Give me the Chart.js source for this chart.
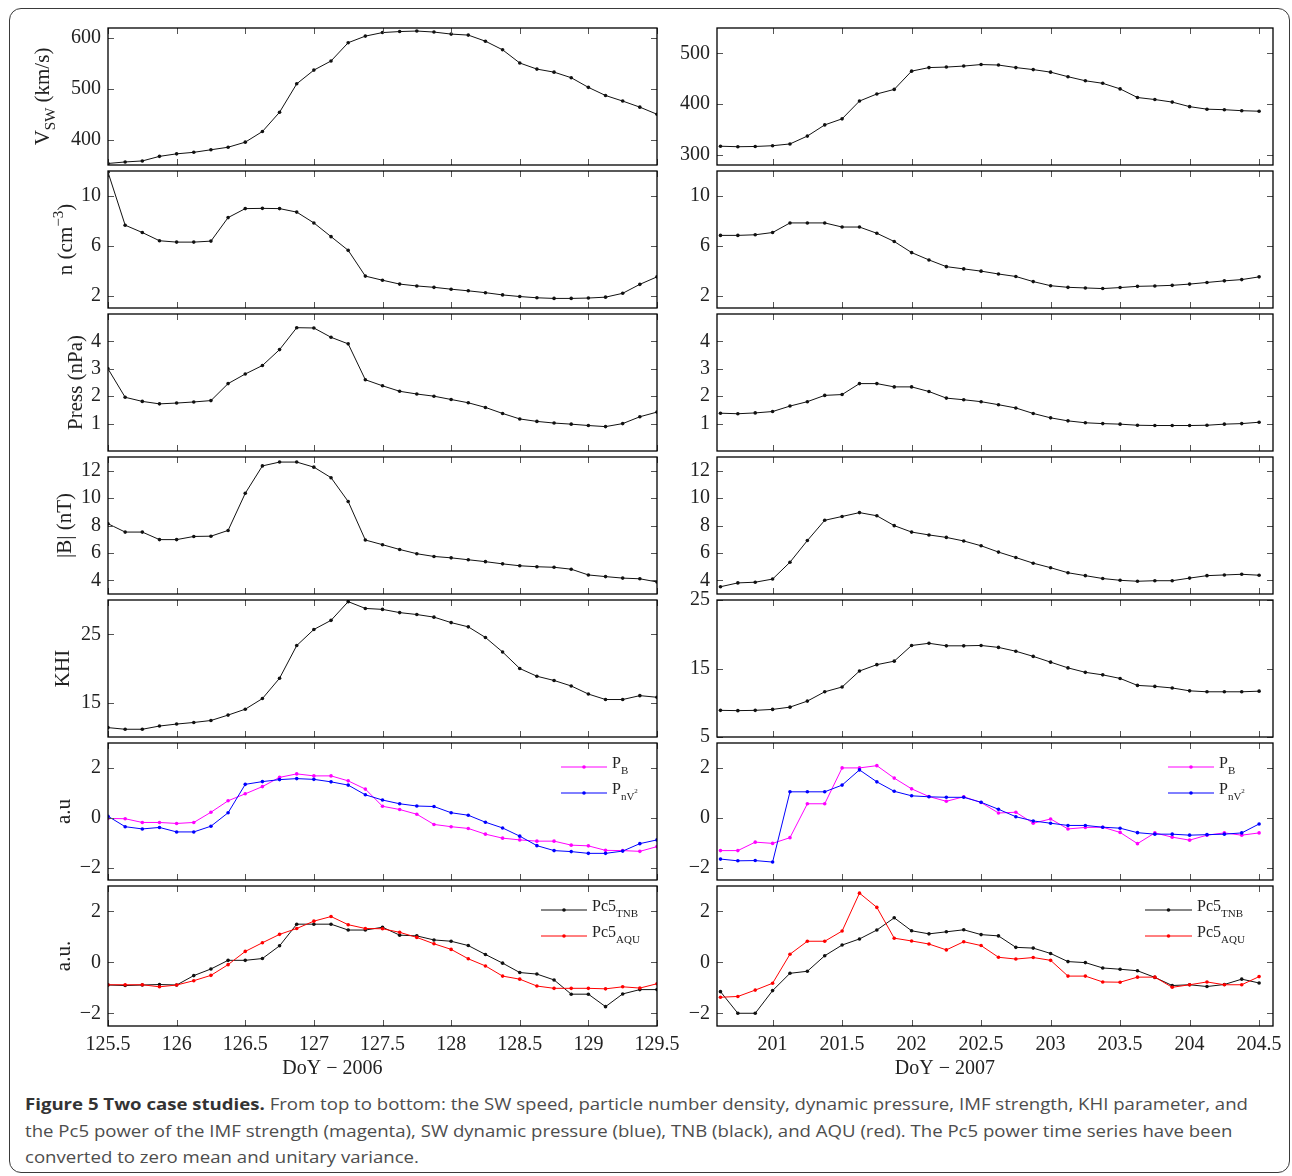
<!doctype html>
<html lang="en">
<head>
<meta charset="utf-8">
<title>Figure 5 Two case studies</title>
<script src="https://cdn.jsdelivr.net/npm/chart.js"></script>
<style>
    body { margin: 0; background: #fff; width: 1292px; height: 1176px; position: relative; overflow: hidden; }
    .frame { position: absolute; left: 9px; top: 8px; width: 1281px; height: 1165px; box-sizing: border-box;
             border: 1.5px solid #3a3a3a; border-radius: 12px; }
    .panel { position: absolute; }
    .caption { position: absolute; left: 25px; top: 1091px; font-family: "Open Sans", sans-serif; font-size: 16px;
               line-height: 26.5px; color: #4d4d4d; transform-origin: 0 0; white-space: nowrap; }
    .caption b { color: #333; }
</style>
</head>
<body>
<div class="frame"></div>
<div id="plots"></div>
<div class="caption" id="caption">
    <div><span id="capline1"><b>Figure 5 Two case studies.</b> From top to bottom: the SW speed, particle number density, dynamic pressure, IMF strength, KHI parameter, and</span></div>
    <div><span>the Pc5 power of the IMF strength (magenta), SW dynamic pressure (blue), TNB (black), and AQU (red). The Pc5 power time series have been</span></div>
    <div><span>converted to zero mean and unitary variance.</span></div>
</div>
<script>
    // sampling grid: 3-hourly points (day of year)
    const doy2006 = Array.from({length: 33}, (_, i) => 125.5 + i / 8);
    const doy2007 = Array.from({length: 32}, (_, i) => 200.625 + i / 8);
    const ticks2006 = [125.5, 126, 126.5, 127, 127.5, 128, 128.5, 129, 129.5];
    const ticks2007 = [201, 201.5, 202, 202.5, 203, 203.5, 204, 204.5];

    // 2006 event (left column)
    const vswL = [353, 356, 358, 367, 372, 375, 380, 385, 395, 416, 454, 510, 537, 555, 591, 604, 611, 613, 614, 612, 608, 606, 594, 577, 551, 539, 533, 522, 503, 487, 476, 464, 450];
    const nL = [11.9, 7.65, 7.06, 6.4, 6.29, 6.29, 6.37, 8.26, 8.98, 9.0, 8.98, 8.7, 7.83, 6.73, 5.63, 3.56, 3.23, 2.92, 2.77, 2.66, 2.51, 2.38, 2.23, 2.05, 1.92, 1.82, 1.77, 1.77, 1.8, 1.87, 2.18, 2.9, 3.5];
    const pressL = [3.0, 1.96, 1.81, 1.72, 1.75, 1.79, 1.84, 2.46, 2.81, 3.12, 3.70, 4.50, 4.49, 4.15, 3.91, 2.6, 2.38, 2.18, 2.08, 2.0, 1.88, 1.76, 1.59, 1.37, 1.17, 1.08, 1.02, 0.98, 0.93, 0.89, 1.0, 1.25, 1.42];
    const bL = [8.13, 7.52, 7.52, 6.97, 6.97, 7.2, 7.22, 7.64, 10.35, 12.35, 12.63, 12.63, 12.26, 11.49, 9.75, 6.94, 6.6, 6.25, 5.94, 5.74, 5.64, 5.5, 5.36, 5.2, 5.06, 4.99, 4.95, 4.81, 4.39, 4.27, 4.16, 4.11, 3.88];
    const khiL = [11.37, 11.13, 11.13, 11.6, 11.89, 12.12, 12.41, 13.2, 14.06, 15.61, 18.58, 23.35, 25.7, 27.03, 29.76, 28.77, 28.63, 28.16, 27.88, 27.5, 26.7, 26.08, 24.53, 22.41, 20.0, 18.87, 18.25, 17.45, 16.27, 15.47, 15.47, 16.04, 15.8];
    const pbL = [-0.03, -0.04, -0.19, -0.19, -0.23, -0.19, 0.22, 0.68, 0.96, 1.25, 1.62, 1.76, 1.68, 1.68, 1.48, 1.15, 0.46, 0.33, 0.14, -0.27, -0.36, -0.43, -0.66, -0.82, -0.89, -0.94, -0.94, -1.1, -1.13, -1.31, -1.32, -1.35, -1.16];
    const pnvL = [0.06, -0.36, -0.45, -0.39, -0.57, -0.57, -0.34, 0.2, 1.34, 1.45, 1.53, 1.57, 1.54, 1.44, 1.31, 0.92, 0.71, 0.56, 0.47, 0.45, 0.2, 0.1, -0.18, -0.41, -0.74, -1.12, -1.32, -1.36, -1.43, -1.43, -1.34, -1.04, -0.89];
    const tnbL = [-0.89, -0.91, -0.89, -0.87, -0.89, -0.52, -0.26, 0.08, 0.08, 0.15, 0.65, 1.5, 1.5, 1.5, 1.27, 1.27, 1.38, 1.07, 1.04, 0.88, 0.83, 0.66, 0.31, -0.03, -0.4, -0.46, -0.69, -1.25, -1.25, -1.74, -1.24, -1.07, -1.07];
    const aquL = [-0.88, -0.88, -0.88, -0.96, -0.89, -0.72, -0.51, -0.09, 0.43, 0.77, 1.1, 1.33, 1.62, 1.8, 1.48, 1.33, 1.32, 1.18, 0.98, 0.73, 0.51, 0.14, -0.14, -0.54, -0.66, -0.93, -1.02, -1.02, -1.02, -1.04, -0.96, -1.01, -0.84];

    // 2007 event (right column)
    const vswR = [317, 316, 316.5, 318, 321.5, 337, 359, 371, 406, 420, 429, 465, 472, 473, 475, 478, 477, 472, 468, 463, 454, 446, 441, 430, 413, 409, 404, 395, 390, 389, 387, 386];
    const nR = [6.83, 6.83, 6.88, 7.06, 7.83, 7.83, 7.83, 7.5, 7.5, 7.0, 6.34, 5.45, 4.86, 4.32, 4.14, 3.96, 3.73, 3.53, 3.12, 2.79, 2.66, 2.61, 2.56, 2.64, 2.74, 2.77, 2.82, 2.92, 3.05, 3.18, 3.28, 3.5];
    const pressR = [1.38, 1.36, 1.39, 1.44, 1.64, 1.80, 2.03, 2.06, 2.46, 2.46, 2.34, 2.34, 2.17, 1.93, 1.87, 1.80, 1.69, 1.57, 1.37, 1.21, 1.10, 1.03, 1.0, 0.98, 0.94, 0.93, 0.93, 0.93, 0.94, 0.98, 1.0, 1.05];
    const bR = [3.53, 3.81, 3.86, 4.09, 5.32, 6.9, 8.38, 8.66, 8.94, 8.71, 7.99, 7.52, 7.31, 7.13, 6.87, 6.52, 6.06, 5.66, 5.25, 4.92, 4.55, 4.34, 4.13, 4.0, 3.93, 3.97, 3.97, 4.16, 4.34, 4.39, 4.44, 4.37];
    const khiR = [8.89, 8.85, 8.89, 9.03, 9.36, 10.24, 11.6, 12.3, 14.63, 15.56, 16.07, 18.36, 18.68, 18.31, 18.31, 18.36, 18.08, 17.52, 16.77, 15.93, 15.09, 14.44, 14.07, 13.55, 12.53, 12.39, 12.16, 11.74, 11.6, 11.6, 11.6, 11.69];
    const pbR = [-1.32, -1.32, -0.98, -1.03, -0.8, 0.56, 0.56, 2.0, 2.0, 2.09, 1.59, 1.16, 0.85, 0.66, 0.84, 0.61, 0.19, 0.22, -0.22, -0.05, -0.45, -0.39, -0.38, -0.59, -1.04, -0.61, -0.78, -0.9, -0.7, -0.61, -0.7, -0.61];
    const pnvR = [-1.66, -1.73, -1.72, -1.78, 1.04, 1.04, 1.04, 1.31, 1.92, 1.44, 1.06, 0.88, 0.84, 0.82, 0.82, 0.62, 0.34, 0.04, -0.13, -0.22, -0.31, -0.31, -0.38, -0.42, -0.6, -0.66, -0.66, -0.7, -0.68, -0.66, -0.61, -0.25];
    const tnbR = [-1.15, -2.0, -2.0, -1.11, -0.43, -0.35, 0.26, 0.68, 0.92, 1.27, 1.75, 1.24, 1.12, 1.2, 1.28, 1.09, 1.04, 0.59, 0.56, 0.35, 0.03, -0.01, -0.22, -0.27, -0.33, -0.59, -0.91, -0.88, -0.95, -0.87, -0.66, -0.81];
    const aquR = [-1.37, -1.34, -1.09, -0.82, 0.32, 0.83, 0.83, 1.23, 2.72, 2.16, 0.95, 0.84, 0.72, 0.49, 0.81, 0.66, 0.2, 0.13, 0.19, 0.08, -0.54, -0.54, -0.77, -0.78, -0.58, -0.58, -0.98, -0.88, -0.77, -0.88, -0.88, -0.56];

    const SERIF = "'Liberation Serif', 'Times New Roman', serif";
    Chart.defaults.font.family = SERIF;

    // layout of the figure
    const rowTops = [25, 168, 311, 454, 597, 740, 883];
    const rowH = 143;
    const cols = [
        {left: 108, pw: 549, yw: 101, rp: 30, doy: doy2006, min: 125.5, max: 129.5, ticks: ticks2006, xTitle: 'DoY \u2212 2006'},
        {left: 717, pw: 556, yw: 60, rp: 19, doy: doy2007, min: 200.6, max: 204.6, ticks: ticks2007, xTitle: 'DoY \u2212 2007'}
    ];

    function fmt(v) {
        return v < 0 ? '\u2212' + Math.abs(v) : String(v);
    }

    function drawRich(ctx, parts, x, y, center) {
        let w = 0;
        parts.forEach(p => {
            ctx.font = p.s + 'px ' + SERIF;
            p.w = ctx.measureText(p.t).width;
            w += p.w;
        });
        let cx = center ? x - w / 2 : x;
        parts.forEach(p => {
            ctx.font = p.s + 'px ' + SERIF;
            ctx.fillText(p.t, cx, y + (p.dy || 0));
            cx += p.w;
        });
    }

    // frame, inward ticks, y title and legend in MATLAB style
    const panelDecor = {
        id: 'panelDecor',
        afterDraw(chart, args, o) {
            const ctx = chart.ctx, a = chart.chartArea;
            const xs = chart.scales.x, ys = chart.scales.y;
            ctx.save();
            ctx.strokeStyle = '#555';
            ctx.lineWidth = 1;
            ctx.beginPath();
            o.xTicks.forEach(v => {
                const px = Math.round(xs.getPixelForValue(v)) + 0.5;
                ctx.moveTo(px, a.top); ctx.lineTo(px, a.top + 6);
                ctx.moveTo(px, a.bottom); ctx.lineTo(px, a.bottom - 6);
            });
            ys.ticks.forEach(t => {
                const py = Math.round(ys.getPixelForValue(t.value)) + 0.5;
                ctx.moveTo(a.left, py); ctx.lineTo(a.left + 6, py);
                ctx.moveTo(a.right, py); ctx.lineTo(a.right - 6, py);
            });
            ctx.stroke();
            ctx.strokeStyle = '#000';
            ctx.lineWidth = 1.3;
            ctx.strokeRect(a.left, a.top, a.right - a.left, a.bottom - a.top);

            ctx.fillStyle = '#222';
            ctx.textBaseline = 'alphabetic';
            if (o.title) {
                ctx.save();
                ctx.translate(a.left + o.titleX, (a.top + a.bottom) / 2);
                ctx.rotate(-Math.PI / 2);
                drawRich(ctx, o.title, 0, 7, true);
                ctx.restore();
            }
            if (o.xTitle) {
                ctx.textAlign = 'center';
                drawRich(ctx, [{t: o.xTitle, s: 20}], (a.left + a.right) / 2, a.bottom + 48, true);
            }
            (o.legend || []).forEach(l => {
                const y = a.top + l.y, x0 = a.right + l.x0, x1 = a.right + l.x1;
                ctx.strokeStyle = l.color;
                ctx.lineWidth = 1;
                ctx.beginPath();
                ctx.moveTo(x0, y); ctx.lineTo(x1, y);
                ctx.stroke();
                ctx.fillStyle = l.color;
                ctx.beginPath();
                ctx.arc((x0 + x1) / 2, y, 1.8, 0, Math.PI * 2);
                ctx.fill();
                ctx.fillStyle = '#222';
                ctx.textAlign = 'left';
                drawRich(ctx, l.parts, x1 + 5, y + 1, false);
            });
            ctx.restore();
        }
    };

    function makePanel(col, row, cfg) {
        const c = cols[col];
        const isBottom = row === 6;
        const padT = 16, padB = isBottom ? 0 : 16, xh = 62;
        const w = c.yw + c.pw + c.rp;
        const h = padT + rowH + (isBottom ? xh : padB);
        const div = document.createElement('div');
        div.className = 'panel';
        div.style.left = (c.left - c.yw) + 'px';
        div.style.top = (rowTops[row] - padT) + 'px';
        const canvas = document.createElement('canvas');
        canvas.width = w;
        canvas.height = h;
        div.appendChild(canvas);
        document.getElementById('plots').appendChild(div);

        new Chart(canvas, {
            type: 'line',
            data: {
                datasets: cfg.series.map((s, k) => ({
                    data: c.doy.map((x, i) => ({x: x, y: s.values[i]})),
                    borderColor: s.color,
                    backgroundColor: s.color,
                    borderWidth: 1,
                    pointRadius: 1.8,
                    pointHoverRadius: 1.8,
                    pointBorderWidth: 0,
                    tension: 0,
                    order: cfg.series.length - k
                }))
            },
            options: {
                responsive: false,
                animation: false,
                events: [],
                layout: {padding: {left: 0, right: c.rp, top: padT, bottom: padB}},
                plugins: {
                    legend: {display: false},
                    tooltip: {enabled: false},
                    panelDecor: {
                        xTicks: c.ticks,
                        title: cfg.title,
                        titleX: cfg.titleX,
                        legend: cfg.legend ? cfg.legend[col] : null,
                        xTitle: isBottom ? c.xTitle : null
                    }
                },
                scales: {
                    x: {
                        type: 'linear',
                        min: c.min,
                        max: c.max,
                        display: isBottom,
                        grid: {display: false, drawTicks: false},
                        border: {display: false},
                        afterBuildTicks: s => { s.ticks = c.ticks.map(v => ({value: v})); },
                        afterFit: s => { if (isBottom) s.height = xh; },
                        ticks: {autoSkip: false, maxRotation: 0, padding: 7, color: '#222', font: {size: 20}, callback: v => fmt(v)}
                    },
                    y: {
                        min: cfg.range[col][0],
                        max: cfg.range[col][1],
                        grid: {display: false, drawTicks: false},
                        border: {display: false},
                        afterBuildTicks: s => { s.ticks = cfg.yTicks[col].map(v => ({value: v})); },
                        afterFit: s => { s.width = c.yw; },
                        ticks: {padding: 7, color: '#222', font: {size: 20}, callback: v => fmt(v)}
                    }
                }
            },
            plugins: [panelDecor]
        });
    }

    const K = '#111', MAG = '#ff00ff', BLU = '#0000ff', RED = '#ff0000';

    const panels = [
        {
            title: [{t: 'V', s: 21}, {t: 'SW', s: 15, dy: 6}, {t: ' (km/s)', s: 21}], titleX: -66,
            range: [[350, 620], [280, 550]], yTicks: [[400, 500, 600], [300, 400, 500]],
            series: [[{values: vswL, color: K}], [{values: vswR, color: K}]]
        },
        {
            title: [{t: 'n (cm', s: 21}, {t: '\u22123', s: 15, dy: -9}, {t: ')', s: 21}], titleX: -43,
            range: [[1, 12], [1, 12]], yTicks: [[2, 6, 10], [2, 6, 10]],
            series: [[{values: nL, color: K}], [{values: nR, color: K}]]
        },
        {
            title: [{t: 'Press (nPa)', s: 21}], titleX: -33,
            range: [[0, 5], [0, 5]], yTicks: [[1, 2, 3, 4], [1, 2, 3, 4]],
            series: [[{values: pressL, color: K}], [{values: pressR, color: K}]]
        },
        {
            title: [{t: '|B| (nT)', s: 21}], titleX: -44,
            range: [[3, 13], [3, 13]], yTicks: [[4, 6, 8, 10, 12], [4, 6, 8, 10, 12]],
            series: [[{values: bL, color: K}], [{values: bR, color: K}]]
        },
        {
            title: [{t: 'KHI', s: 21}], titleX: -46,
            range: [[10, 30], [5, 25]], yTicks: [[15, 25], [5, 15, 25]],
            series: [[{values: khiL, color: K}], [{values: khiR, color: K}]]
        },
        {
            title: [{t: 'a.u', s: 21}], titleX: -45,
            range: [[-2.5, 3], [-2.5, 3]], yTicks: [[-2, 0, 2], [-2, 0, 2]],
            series: [[{values: pbL, color: MAG}, {values: pnvL, color: BLU}],
                     [{values: pbR, color: MAG}, {values: pnvR, color: BLU}]],
            legend: [
                [{color: MAG, y: 24, x0: -96, x1: -50, parts: [{t: 'P', s: 16}, {t: 'B', s: 11, dy: 6}]},
                 {color: BLU, y: 50, x0: -96, x1: -50, parts: [{t: 'P', s: 16}, {t: 'nV', s: 11, dy: 6}, {t: '2', s: 7, dy: -1}]}],
                [{color: MAG, y: 24, x0: -105, x1: -59, parts: [{t: 'P', s: 16}, {t: 'B', s: 11, dy: 6}]},
                 {color: BLU, y: 50, x0: -105, x1: -59, parts: [{t: 'P', s: 16}, {t: 'nV', s: 11, dy: 6}, {t: '2', s: 7, dy: -1}]}]
            ]
        },
        {
            title: [{t: 'a.u.', s: 21}], titleX: -45,
            range: [[-2.5, 3], [-2.5, 3]], yTicks: [[-2, 0, 2], [-2, 0, 2]],
            series: [[{values: tnbL, color: K}, {values: aquL, color: RED}],
                     [{values: tnbR, color: K}, {values: aquR, color: RED}]],
            legend: [
                [{color: K, y: 24, x0: -116, x1: -70, parts: [{t: 'Pc5', s: 16}, {t: 'TNB', s: 11, dy: 6}]},
                 {color: RED, y: 50, x0: -116, x1: -70, parts: [{t: 'Pc5', s: 16}, {t: 'AQU', s: 11, dy: 6}]}],
                [{color: K, y: 24, x0: -128, x1: -81, parts: [{t: 'Pc5', s: 16}, {t: 'TNB', s: 11, dy: 6}]},
                 {color: RED, y: 50, x0: -128, x1: -81, parts: [{t: 'Pc5', s: 16}, {t: 'AQU', s: 11, dy: 6}]}]
            ]
        }
    ];

    panels.forEach((p, row) => {
        [0, 1].forEach(col => {
            makePanel(col, row, {
                title: col === 0 ? p.title : null,
                titleX: p.titleX,
                range: p.range,
                yTicks: p.yTicks,
                series: p.series[col],
                legend: p.legend
            });
        });
    });

    // squeeze the caption to the width of the printed one
    function fitCaption() {
        const cap = document.getElementById('caption');
        cap.style.transform = 'none';
        const w = document.getElementById('capline1').offsetWidth;
        cap.style.transform = 'scaleX(' + (1223 / w) + ')';
    }
    fitCaption();
    if (document.fonts) document.fonts.ready.then(fitCaption);
</script>
</body>
</html>
